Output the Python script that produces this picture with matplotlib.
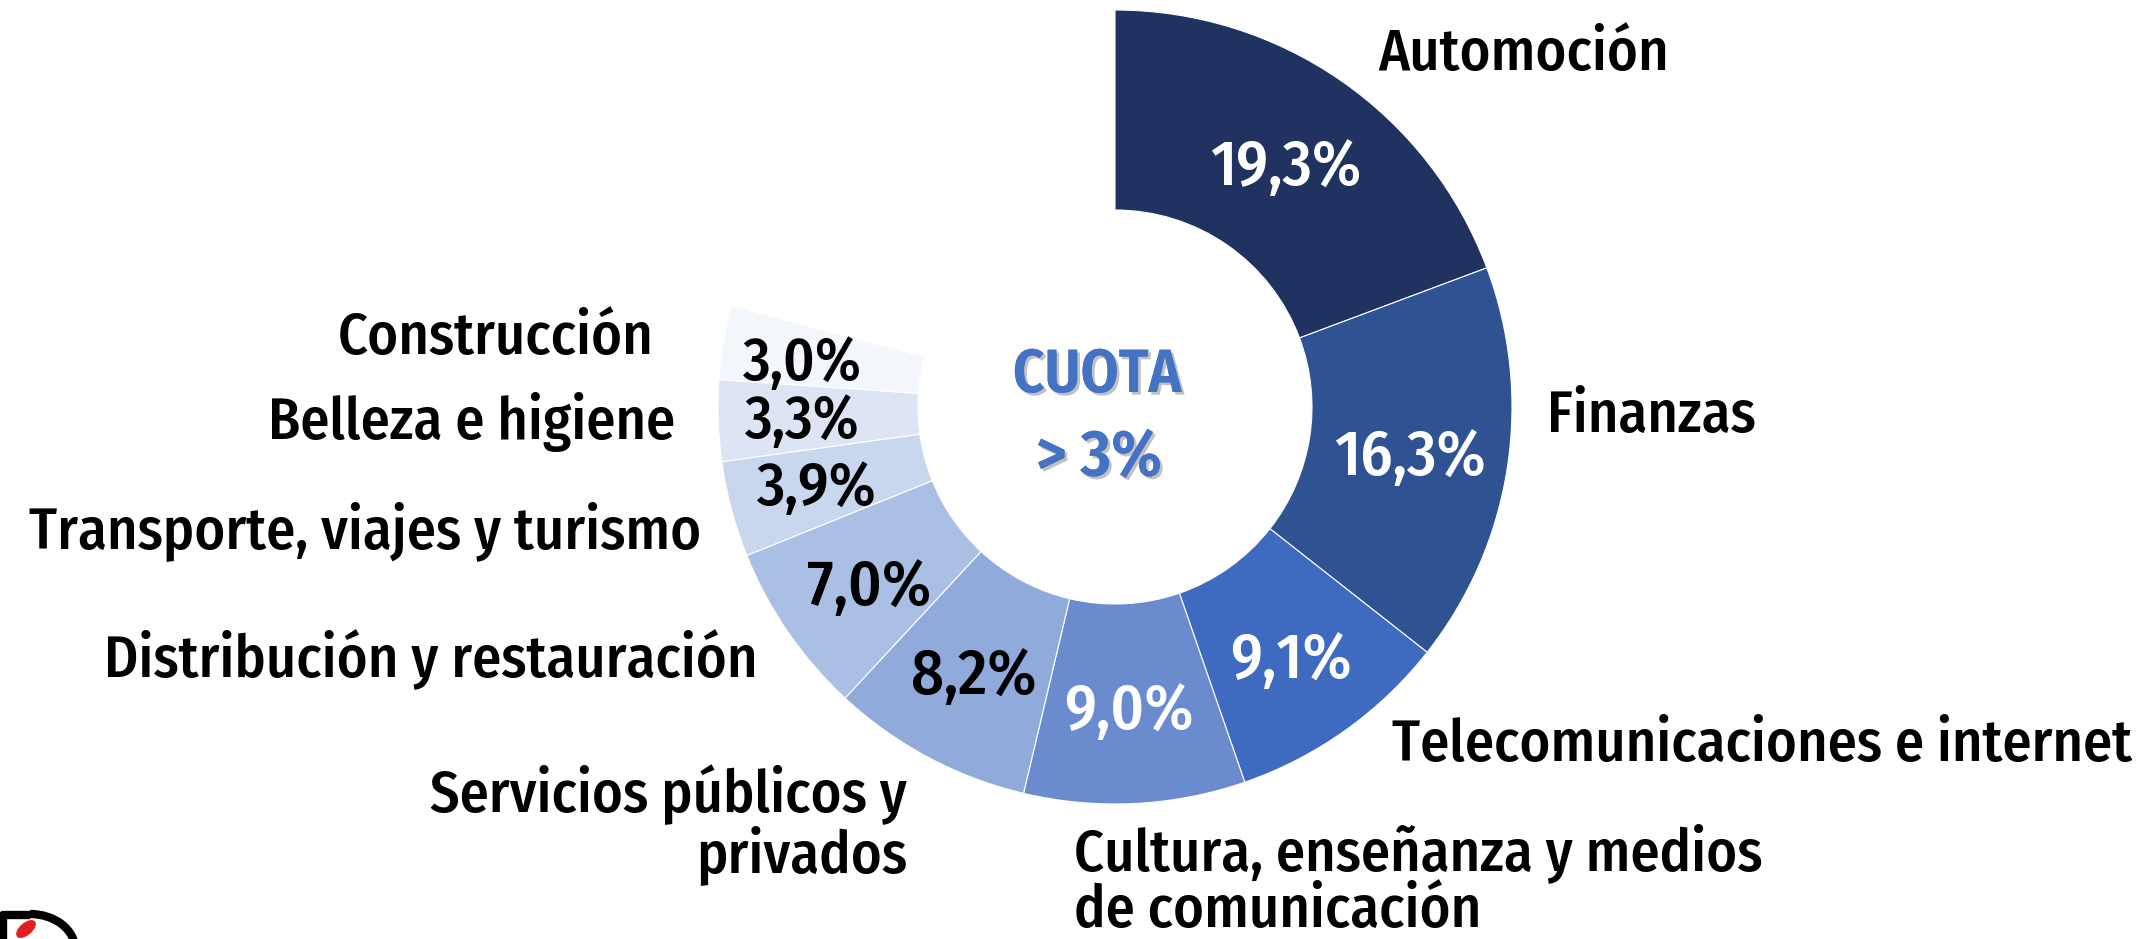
import matplotlib
matplotlib.use("Agg")
import matplotlib.pyplot as plt
import matplotlib.patheffects as pe
from matplotlib.patches import Ellipse, Arc

categories = ["Automoción", "Finanzas", "Telecomunicaciones e internet",
              "Cultura, enseñanza y medios\nde comunicación",
              "Servicios públicos y\nprivados", "Distribución y restauración",
              "Transporte, viajes y turismo", "Belleza e higiene", "Construcción"]
shares = [19.3, 16.3, 9.1, 9.0, 8.2, 7.0, 3.9, 3.3, 3.0]
share_labels = ["19,3%", "16,3%", "9,1%", "9,0%", "8,2%", "7,0%", "3,9%", "3,3%", "3,0%"]
colors = ["#1F3260", "#2F5293", "#3E6BBF", "#6A8CCF", "#8FAADB",
          "#A9BFE4", "#C8D6EE", "#DDE5F4", "#F3F6FB"]
pct_colors = ["white", "white", "white", "white", "black", "black", "black", "black", "black"]

W, H = 2146, 939
fig = plt.figure(figsize=(W / 100, H / 100), dpi=100)
ax = fig.add_axes([0, 0, 1, 1])

FONT = ["Fira Sans Condensed", "PT Sans Narrow", "DejaVu Sans"]
WEIGHT = 500

cx, cy = 1115, H - 407
R = 397
wedges, _ = ax.pie([s / 100 for s in shares], colors=colors, startangle=90,
                   counterclock=False, normalize=False, center=(cx, cy), radius=R,
                   wedgeprops=dict(width=200, edgecolor="white", linewidth=0.8))
ax.set_xlim(0, W)
ax.set_ylim(0, H)
ax.set_aspect("equal")
ax.axis("off")

# percentage labels (image pixel positions)
pct_pos = [(1286, 168), (1410, 458), (1291, 661), (1129, 712), (974, 677),
           (869, 588), (817, 489), (802, 422), (802, 364)]
pct_sizes = [46, 46, 46, 46, 46, 46, 44, 43, 43]
for (x, y), lab, c, fs in zip(pct_pos, share_labels, pct_colors, pct_sizes):
    ax.text(x, H - y, lab, color=c, fontsize=fs, family=FONT, fontweight=WEIGHT,
            ha="center", va="center")

# category labels
cat_pos = [(1378, 55, "left"), (1547, 417, "left"), (1392, 746, "left"),
           (1074, 882, "left"), (907, 825, "right"), (757, 660, "right"),
           (701, 531, "right"), (675, 422, "right"), (654, 339, "right")]
for (x, y, ha), lab in zip(cat_pos, categories):
    ax.text(x, H - y, lab, color="black", fontsize=42, family=FONT, fontweight=WEIGHT,
            ha=ha, va="center", linespacing=1.0)

# center text
shadow = [pe.withSimplePatchShadow(offset=(2, -2), shadow_rgbFace="#999999", alpha=0.6), pe.Normal()]
ax.text(1097, H - 376, "CUOTA", color="#4472C4", fontsize=44, family=FONT,
        fontweight=600, ha="center", va="center", path_effects=shadow)
ax.text(1099, H - 458, "> 3%", color="#4472C4", fontsize=47, family=FONT,
        fontweight=600, ha="center", va="center", path_effects=shadow)

# logo fragment bottom-left
ax.add_patch(Arc((30, -10), 90, 70, theta1=0, theta2=90, color="black", lw=6))
ax.plot([3, 3, 30], [0, 24, 24], color="black", lw=6, solid_capstyle="butt")
ax.add_patch(Ellipse((26, 10), 22, 11, angle=40, color="#E02020"))

fig.savefig("out.png", dpi=100)
